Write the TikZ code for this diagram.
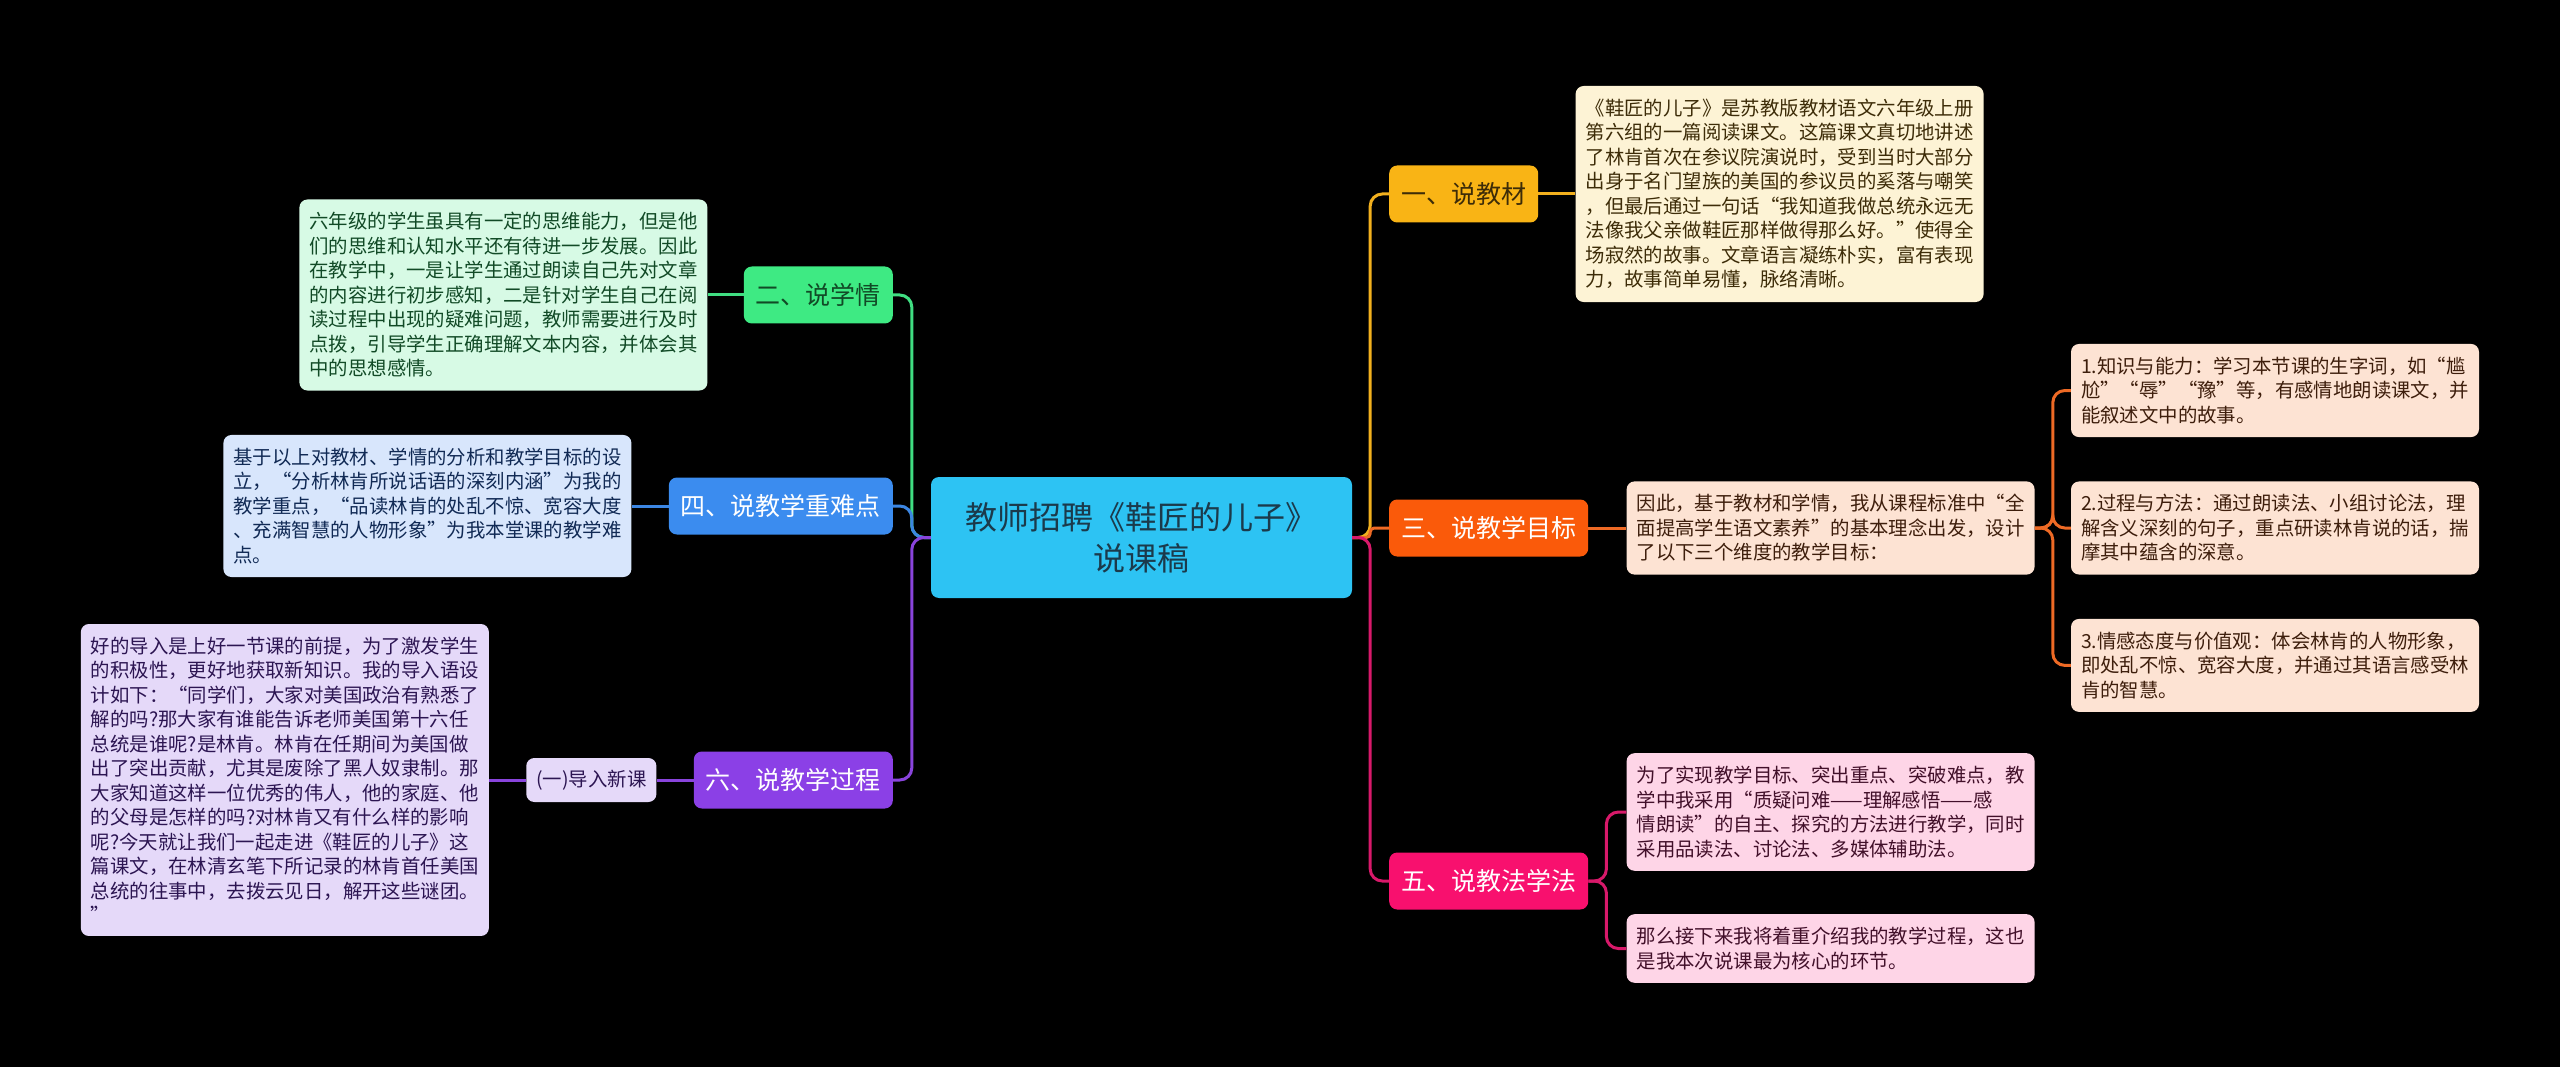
\documentclass[tikz,border=0pt]{standalone}
\usepackage{fontspec}
\setmainfont{Noto Sans CJK SC}
\usepackage{xcolor}
\usepackage{tikz}
\usetikzlibrary{positioning}

\definecolor{bgc}{HTML}{000000}
\definecolor{rootc}{HTML}{2DC3F3}
\definecolor{roottxt}{HTML}{1B3A4B}
% branch fills
\definecolor{jcc}{HTML}{F9B415}
\definecolor{mbc}{HTML}{FA5A0A}
\definecolor{ffc}{HTML}{F8106E}
\definecolor{xqc}{HTML}{3EEA83}
\definecolor{zdc}{HTML}{3B8CEF}
\definecolor{gcc}{HTML}{8B40E6}
% connector colours
\definecolor{jcline}{HTML}{F2B01E}
\definecolor{mbline}{HTML}{EE6A25}
\definecolor{ffline}{HTML}{D8196A}
\definecolor{xqline}{HTML}{40DE82}
\definecolor{zdline}{HTML}{3C86E2}
\definecolor{gcline}{HTML}{8944DC}
% leaf fills and texts
\definecolor{jcl}{HTML}{FDF3D5}
\definecolor{jct}{HTML}{3D2C08}
\definecolor{mbl}{HTML}{FDE3D3}
\definecolor{mbt}{HTML}{3E1E0C}
\definecolor{ffl}{HTML}{FED5E7}
\definecolor{fft}{HTML}{42102A}
\definecolor{xql}{HTML}{D7FAE5}
\definecolor{xqt}{HTML}{114A26}
\definecolor{zdl}{HTML}{D8E6FC}
\definecolor{zdt}{HTML}{112A55}
\definecolor{gcl}{HTML}{E5D9F9}
\definecolor{gct}{HTML}{2C1552}

\begin{document}
\begin{tikzpicture}[
    x=1pt, y=-1pt,
    node distance=37pt,
    mainbox/.style={
        fill=rootc,
        rounded corners=8pt,
        minimum width=421pt,
        minimum height=121pt,
        align=center,
        text=roottxt,
        font=\fontsize{32pt}{41pt}\selectfont
    },
    branchbox/.style={
        rounded corners=8pt,
        minimum height=57pt,
        inner xsep=12pt,
        text=white,
        font=\fontsize{25pt}{30pt}\selectfont
    },
    leafbox/.style={
        rounded corners=8pt,
        text width=388pt,
        inner xsep=10pt,
        inner ysep=13pt,
        align=left,
        font=\fontsize{19.4pt}{24.5pt}\selectfont
    },
    conn/.style={
        line width=3pt,
        rounded corners=12pt
    }
]
\useasboundingbox (0,0) rectangle (2560,1067);
\fill[bgc] (0,0) rectangle (2560,1067);

% Root
\node[mainbox] (root) at (1141.5,537.5) {教师招聘《鞋匠的儿子》\\说课稿};

% Right branches
\node[branchbox, fill=jcc, text=jct, anchor=west] (jc) at (1389,194) {一、说教材};
\node[branchbox, fill=mbc, anchor=west] (mb) at (1389,528) {三、说教学目标};
\node[branchbox, fill=ffc, anchor=west] (ff) at (1389,881) {五、说教法学法};

\node[leafbox, fill=jcl, text=jct, right=37pt of jc] (jcT) {《鞋匠的儿子》是苏教版教材语文六年级上册\\
第六组的一篇阅读课文。这篇课文真切地讲述\\
了林肯首次在参议院演说时，受到当时大部分\\
出身于名门望族的美国的参议员的奚落与嘲笑\\
，但最后通过一句话“我知道我做总统永远无\\
法像我父亲做鞋匠那样做得那么好。”使得全\\
场寂然的故事。文章语言凝练朴实，富有表现\\
力，故事简单易懂，脉络清晰。};

\node[leafbox, fill=mbl, text=mbt, right=38pt of mb] (mbT) {因此，基于教材和学情，我从课程标准中“全\\
面提高学生语文素养”的基本理念出发，设计\\
了以下三个维度的教学目标：};

\node[leafbox, fill=mbl, text=mbt, right=36pt of mbT] (mb2) {2.过程与方法：通过朗读法、小组讨论法，理\\
解含义深刻的句子，重点研读林肯说的话，揣\\
摩其中蕴含的深意。};
\node[leafbox, fill=mbl, text=mbt, above=44pt of mb2] (mb1) {1.知识与能力：学习本节课的生字词，如“尴\\
尬”“辱”“豫”等，有感情地朗读课文，并\\
能叙述文中的故事。};
\node[leafbox, fill=mbl, text=mbt, below=44pt of mb2] (mb3) {3.情感态度与价值观：体会林肯的人物形象，\\
即处乱不惊、宽容大度，并通过其语言感受林\\
肯的智慧。};

\node[leafbox, fill=ffl, text=fft, right=38pt of ff, yshift=69pt] (ffA) {为了实现教学目标、突出重点、突破难点，教\\
学中我采用“质疑问难——理解感悟——感\\
情朗读”的自主、探究的方法进行教学，同时\\
采用品读法、讨论法、多媒体辅助法。};
\node[leafbox, fill=ffl, text=fft, below=43pt of ffA] (ffB) {那么接下来我将着重介绍我的教学过程，这也\\
是我本次说课最为核心的环节。};

% Left branches
\node[branchbox, fill=xqc, text=xqt, anchor=east] (xq) at (893,295) {二、说学情};
\node[branchbox, fill=zdc, anchor=east] (zd) at (893,506) {四、说教学重难点};
\node[branchbox, fill=gcc, anchor=east] (gc) at (893,780) {六、说教学过程};

\node[leafbox, fill=xql, text=xqt, left=36pt of xq] (xqT) {六年级的学生虽具有一定的思维能力，但是他\\
们的思维和认知水平还有待进一步发展。因此\\
在教学中，一是让学生通过朗读自己先对文章\\
的内容进行初步感知，二是针对学生自己在阅\\
读过程中出现的疑难问题，教师需要进行及时\\
点拨，引导学生正确理解文本内容，并体会其\\
中的思想感情。};

\node[leafbox, fill=zdl, text=zdt, left=37pt of zd] (zdT) {基于以上对教材、学情的分析和教学目标的设\\
立，“分析林肯所说话语的深刻内涵”为我的\\
教学重点，“品读林肯的处乱不惊、宽容大度\\
、充满智慧的人物形象”为我本堂课的教学难\\
点。};

\node[rounded corners=8pt, fill=gcl, text=gct, minimum height=44pt, inner xsep=10pt,
      font=\fontsize{19.4pt}{24pt}\selectfont, left=37pt of gc] (gcA) {(一)导入新课};
\node[leafbox, fill=gcl, text=gct, left=37pt of gcA] (gcT) {好的导入是上好一节课的前提，为了激发学生\\
的积极性，更好地获取新知识。我的导入语设\\
计如下：“同学们，大家对美国政治有熟悉了\\
解的吗?那大家有谁能告诉老师美国第十六任\\
总统是谁呢?是林肯。林肯在任期间为美国做\\
出了突出贡献，尤其是废除了黑人奴隶制。那\\
大家知道这样一位优秀的伟人，他的家庭、他\\
的父母是怎样的吗?对林肯又有什么样的影响\\
呢?今天就让我们一起走进《鞋匠的儿子》这\\
篇课文，在林清玄笔下所记录的林肯首任美国\\
总统的往事中，去拨云见日，解开这些谜团。\\
”};

% Right connectors
\draw[conn, jcline] (root.east) -- ++(18,0) |- (jc.west);
\draw[conn, mbline, rounded corners=4pt] (root.east) -- ++(18,0) |- (mb.west);
\draw[conn, ffline] (root.east) -- ++(18,0) |- (ff.west);
\draw[conn, jcline] (jc.east) -- (jc.east -| jcT.west);
\draw[conn, mbline] (mb.east) -- (mb.east -| mbT.west);
\draw[conn, mbline] (mbT.east) -- ++(18,0) |- (mb1.west);
\draw[conn, mbline] (mbT.east) -- ++(18,0) |- (mb2.west);
\draw[conn, mbline] (mbT.east) -- ++(18,0) |- (mb3.west);
\draw[conn, ffline] (ff.east) -- ++(18,0) |- (ffA.west);
\draw[conn, ffline] (ff.east) -- ++(18,0) |- (ffB.west);

% Left connectors
\draw[conn, xqline] (root.west) -- ++(-19,0) |- (xq.east);
\draw[conn, zdline] (root.west) -- ++(-19,0) |- (zd.east);
\draw[conn, gcline] (root.west) -- ++(-19,0) |- (gc.east);
\draw[conn, xqline] (xq.west) -- (xq.west -| xqT.east);
\draw[conn, zdline] (zd.west) -- (zd.west -| zdT.east);
\draw[conn, gcline] (gc.west) -- (gcA.east);
\draw[conn, gcline] (gcA.west) -- (gcT.east);

\end{tikzpicture}
\end{document}
